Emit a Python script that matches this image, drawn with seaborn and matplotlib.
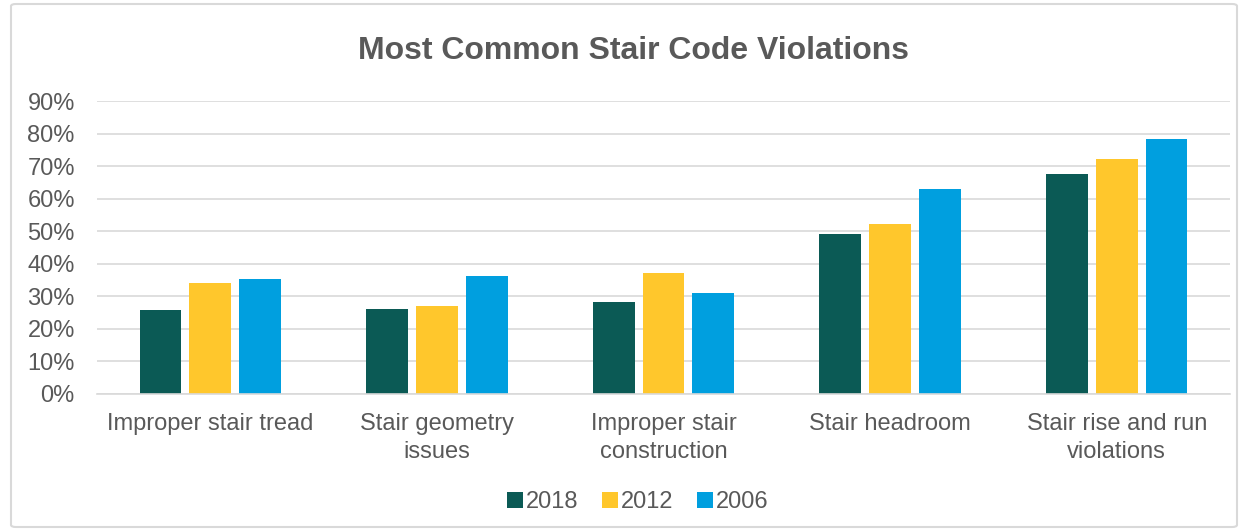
import pandas as pd
import numpy as np
import matplotlib.pyplot as plt
import seaborn as sns
from matplotlib.patches import FancyBboxPatch, Patch
from matplotlib.ticker import PercentFormatter

sns.set_theme(style="white")
plt.rcParams['font.family'] = ['Liberation Sans', 'DejaVu Sans']

# Data (percent)
categories = ["Improper stair tread", "Stair geometry\nissues", "Improper stair\nconstruction",
              "Stair headroom", "Stair rise and run\nviolations"]
years = ["2018", "2012", "2006"]
v2018 = [25.7, 26.1, 28.2, 49.2, 67.7]
v2012 = [34.2, 27.1, 37.1, 52.1, 72.2]
v2006 = [35.2, 36.1, 31.1, 63.1, 78.2]
colors = ["#0B5A55", "#FFC72C", "#009FDF"]

df = pd.DataFrame({
    "category": categories * 3,
    "year": [y for y in years for _ in categories],
    "value": v2018 + v2012 + v2006,
})

grey = "#595959"
fig = plt.figure(figsize=(12.48, 5.31), dpi=100)
ax = fig.add_axes([97 / 1248, 1 - 394 / 531, (1230 - 97) / 1248, (394 - 101) / 531])

sns.barplot(data=df, x="category", y="value", hue="year", hue_order=years,
            palette=colors, width=0.66, gap=0.16, ax=ax, legend=False,
            saturation=1, linewidth=0, errorbar=None)

ax.set_ylim(0, 90)
ax.set_yticks(np.arange(0, 91, 10))
ax.yaxis.set_major_formatter(PercentFormatter(decimals=0))
ax.set_xlim(-0.5, len(categories) - 0.5)
ax.grid(axis="y", color="#D9D9D9", linewidth=1.2)
ax.set_axisbelow(True)
for s in ["left", "right", "top"]:
    ax.spines[s].set_visible(False)
ax.spines["bottom"].set_color("#D9D9D9")
ax.spines["bottom"].set_linewidth(1.2)
ax.set_xlabel("")
ax.set_ylabel("")
ax.tick_params(axis="y", length=0, pad=16, labelsize=17, labelcolor=grey)
ax.tick_params(axis="x", length=0, pad=14, labelsize=17, labelcolor=grey)
for lbl in ax.get_xticklabels():
    lbl.set_linespacing(1.3)

fig.text(634 / 1248, 1 - 51 / 531, "Most Common Stair Code Violations", ha="center", va="center",
         fontsize=23, fontweight="bold", color=grey)

handles = [Patch(facecolor=c, edgecolor="none") for c in colors]
fig.legend(handles, years, loc="center", bbox_to_anchor=(638 / 1248, 1 - 502 / 531), ncol=3,
           frameon=False, fontsize=17, labelcolor=grey, handlelength=0.65, handleheight=0.65,
           handletextpad=0.15, columnspacing=1.0)

border = FancyBboxPatch((11 / 1248, 4 / 531), 1 - 22 / 1248, 1 - 8 / 531,
                        boxstyle="round,pad=0,rounding_size=0.004", transform=fig.transFigure,
                        facecolor="none", edgecolor="#D9D9D9", linewidth=1.5)
fig.patches.append(border)

fig.savefig("out.png", dpi=100)
